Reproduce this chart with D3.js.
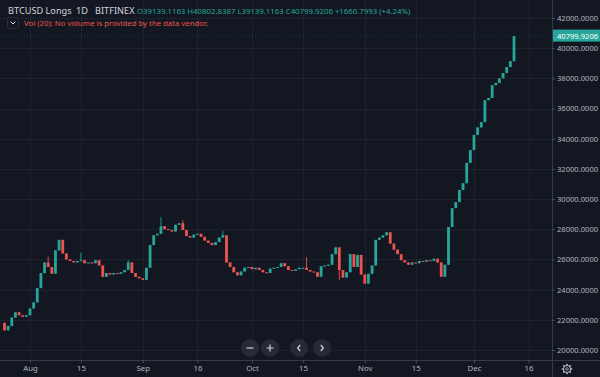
<!DOCTYPE html>
<html>
  <head>
    <meta charset="utf-8">
    <script src="https://d3js.org/d3.v7.min.js"></script>
    <style>
      body { margin: 0; background: #131722; }
      svg { display: block; font-family: "Noto Sans", sans-serif; }
    </style>
  </head>
  <body>
    <div id="chart"></div>
    <script>
    // ---- data: daily candles BTCUSD Longs, first candle on Jul 25
    var firstDay = new Date(Date.UTC(2020, 6, 25))

    var opens = [21800,21300,21600,22150,22500,22300,22200,
      22300,22750,23150,24100,25100,25800,25500,25050,26600,27300,
      26400,26000,25900,25800,25900,25950,25750,25800,25750,25950,
      25600,24850,25100,25000,25100,25050,25150,25300,25800,25100,
      24850,24750,24650,25450,26950,27600,27700,28200,28000,27950,
      27850,28300,28400,27950,27550,27450,27650,27700,27500,27250,
      27100,26950,27150,27450,27600,25800,25500,25150,24950,25200,
      25450,25500,25350,25450,25300,25150,25100,25400,25450,25500,
      25750,25550,25300,25250,25350,25450,25450,25300,25200,25150,
      24850,25550,25600,25650,26350,26800,25300,24800,25150,26350,
      25500,26300,25000,24400,25050,25600,27300,27450,27600,27800,
      27050,26650,26350,25950,25800,25650,25800,25750,25900,25850,
      25950,25900,26050,25800,24850,25650,28150,29400,29800,30600,
      31050,32400,33250,34250,34750,35100,36550,36700,37550,37700,
      38000,38350,38750,39139.1163]

    var closes = [21300,21600,22150,22500,22300,22200,22300,
      22750,23150,24100,25100,25800,25500,25050,26600,27300,26400,
      26000,25900,25800,25900,25950,25750,25800,25750,25950,25600,
      24850,25100,25000,25100,25050,25150,25300,25800,25100,24850,
      24750,24650,25450,26950,27600,27700,28200,28000,27950,27850,
      28300,28400,27950,27550,27450,27650,27700,27500,27250,27100,
      26950,27150,27450,27600,25800,25500,25150,24950,25200,25450,
      25500,25350,25450,25300,25150,25100,25400,25450,25500,25750,
      25550,25300,25250,25350,25450,25450,25300,25200,25150,24850,
      25550,25600,25650,26350,26800,25300,24800,25150,26350,25500,
      26300,25000,24400,25050,25600,27300,27450,27600,27800,27050,
      26650,26350,25950,25800,25650,25800,25750,25900,25850,25950,
      25900,26050,25800,24850,25650,28150,29400,29800,30600,31050,
      32400,33250,34250,34750,35100,36550,36700,37550,37700,38000,
      38350,38750,39139.1213,40799.9206]

    // candles with a visible wick (index into the arrays above)
    var wickIndex = [12, 21, 34, 43, 49, 60, 83, 92, 140]
    var wickHigh  = [26200, 26450, 25950, 28800, 28600, 27900, 26150, 26800, 40802.8387]
    var wickLow   = [25500, 25900, 25300, 27700, 27950, 27450, 25300, 24650, 39139.1163]

    var priceTicks = [20000,22000,24000,26000,28000,30000,32000,34000,36000,38000,40000,42000]
    var dateTicks = [[2020,7,1],[2020,7,15],[2020,8,1],[2020,8,16],[2020,9,1],[2020,9,15],[2020,10,1],[2020,10,15],[2020,11,1],[2020,11,16]]
    var dateLabels = ["Aug","15","Sep","16","Oct","15","Nov","15","Dec","16"]

    // ---- layout
    var W = 600, H = 377
    var plotRight = 552, plotBottom = 360
    var UP = "#26a69a", DOWN = "#ef5350"
    var GRID = "#1e222e", TEXT = "#b2b5be"

    var svg = d3.select("#chart").append("svg")
      .attr("width", W).attr("height", H)
    svg.append("rect").attr("width", W).attr("height", H).attr("fill", "#131722")

    var candles = closes.map(function(c, i) {
      var o = opens[i]
      var k = wickIndex.indexOf(i)
      return {
        date: d3.utcDay.offset(firstDay, i),
        o: o, c: c,
        h: k >= 0 ? wickHigh[k] : Math.max(o, c),
        l: k >= 0 ? wickLow[k] : Math.min(o, c)
      }
    })
    var last = candles[candles.length - 1]
    var prev = candles[candles.length - 2]

    var x = d3.scaleUtc()
      .domain([candles[0].date, last.date])
      .range([4.5, 514])
    var y = d3.scaleLinear()
      .domain([20000, 42000])
      .range([350, 18])
    var tickDates = dateTicks.map(function(t) { return new Date(Date.UTC(t[0], t[1], t[2])) })

    // grid
    svg.append("g").selectAll("line").data(priceTicks).enter().append("line")
      .attr("x1", 0).attr("x2", plotRight)
      .attr("y1", function(d) { return Math.round(y(d)) + 0.5 })
      .attr("y2", function(d) { return Math.round(y(d)) + 0.5 })
      .attr("stroke", GRID)
    svg.append("g").selectAll("line").data(tickDates).enter().append("line")
      .attr("y1", 0).attr("y2", plotBottom)
      .attr("x1", function(d) { return Math.round(x(d)) + 0.5 })
      .attr("x2", function(d) { return Math.round(x(d)) + 0.5 })
      .attr("stroke", GRID)

    // price line of last close
    svg.append("line")
      .attr("x1", 0).attr("x2", plotRight)
      .attr("y1", Math.round(y(last.c)) + 0.5).attr("y2", Math.round(y(last.c)) + 0.5)
      .attr("stroke", UP).attr("stroke-opacity", 0.22).attr("stroke-dasharray", "1,2")

    // candles
    var bw = 2.8
    var g = svg.append("g")
    g.selectAll(".wick").data(candles).enter().append("line")
      .attr("x1", function(d) { return x(d.date) }).attr("x2", function(d) { return x(d.date) })
      .attr("y1", function(d) { return y(d.h) }).attr("y2", function(d) { return y(d.l) })
      .attr("stroke", function(d) { return d.c >= d.o ? UP : DOWN })
      .attr("stroke-width", 0.9)
    g.selectAll(".body").data(candles).enter().append("rect")
      .attr("x", function(d) { return x(d.date) - bw / 2 })
      .attr("width", bw)
      .attr("y", function(d) { return y(Math.max(d.o, d.c)) })
      .attr("height", function(d) { return Math.max(1, Math.abs(y(d.o) - y(d.c))) })
      .attr("fill", function(d) { return d.c >= d.o ? UP : DOWN })

    // axis borders
    svg.append("line").attr("x1", plotRight + 0.5).attr("x2", plotRight + 0.5)
      .attr("y1", 0).attr("y2", H).attr("stroke", "#363a45")
    svg.append("line").attr("x1", 0).attr("x2", W)
      .attr("y1", plotBottom + 0.5).attr("y2", plotBottom + 0.5).attr("stroke", "#363a45")

    // right price axis
    var yAxis = d3.axisRight(y).tickValues(priceTicks)
      .tickFormat(function(d) { return d.toFixed(4) }).tickSize(3).tickPadding(2)
    var ya = svg.append("g").attr("transform", "translate(" + plotRight + ",0)").call(yAxis)
    ya.select(".domain").remove()
    ya.selectAll("line").attr("stroke", "#4a4e59")
    ya.selectAll("text").attr("fill", TEXT).style("font-size", "7.6px").style("font-family", "Noto Sans")

    // bottom time axis
    var xAxis = d3.axisBottom(x).tickValues(tickDates)
      .tickFormat(function(d, i) { return dateLabels[i] }).tickSize(3).tickPadding(2)
    var xa = svg.append("g").attr("transform", "translate(0," + plotBottom + ")").call(xAxis)
    xa.select(".domain").remove()
    xa.selectAll("line").attr("stroke", "#4a4e59")
    xa.selectAll("text").attr("fill", TEXT).style("font-size", "7.8px").style("font-family", "Noto Sans")

    // last price label
    var ly = y(last.c)
    svg.append("rect").attr("x", plotRight + 1).attr("y", ly - 6.5)
      .attr("width", W - plotRight - 1).attr("height", 12).attr("fill", UP)
    svg.append("text").attr("x", plotRight + 5).attr("y", ly + 2.6)
      .attr("fill", "#ffffff").style("font-size", "7.6px")
      .text(last.c.toFixed(4))

    // legend
    var head = svg.append("text").attr("x", 8).attr("y", 14)
    head.append("tspan").attr("fill", "#d1d4dc").style("font-size", "9.2px").text("BTCUSD Longs")
    head.append("tspan").attr("x", 76).attr("fill", "#d1d4dc").style("font-size", "9.2px").text("1D")
    head.append("tspan").attr("x", 95).attr("fill", "#d1d4dc").style("font-size", "9.2px").text("BITFINEX")
    var chg = last.c - prev.c
    var ohlc = "O" + last.o.toFixed(4) + " H" + last.h.toFixed(4) + " L" + last.l.toFixed(4) +
      " C" + last.c.toFixed(4) + " +" + chg.toFixed(4) + " (+" + (chg / prev.c * 100).toFixed(2) + "%)"
    head.append("tspan").attr("x", 137).attr("fill", UP).style("font-size", "7.8px").text(ohlc)

    svg.append("rect").attr("x", 7.5).attr("y", 17.5).attr("width", 11).attr("height", 11)
      .attr("rx", 2).attr("fill", "#131722").attr("stroke", "#2a2e39")
    svg.append("path").attr("d", "M10.5,21.5 L13,24 L15.5,21.5")
      .attr("fill", "none").attr("stroke", "#d1d4dc").attr("stroke-width", 1)
    svg.append("text").attr("x", 24).attr("y", 25.5)
      .attr("fill", DOWN).style("font-size", "7.6px")
      .attr("textLength", 184).attr("lengthAdjust", "spacingAndGlyphs")
      .text("Vol (20): No volume is provided by the data vendor.")

    // navigation buttons
    var btns = [[250, "minus"], [270, "plus"], [299, "left"], [322, "right"]]
    var bg = svg.append("g")
    btns.forEach(function(b) {
      var cx = b[0], cy = 348
      bg.append("circle").attr("cx", cx).attr("cy", cy).attr("r", 9).attr("fill", "#262a35")
      var p
      if (b[1] == "minus") p = "M" + (cx - 3.5) + "," + cy + "h7"
      if (b[1] == "plus") p = "M" + (cx - 3.5) + "," + cy + "h7M" + cx + "," + (cy - 3.5) + "v7"
      if (b[1] == "left") p = "M" + (cx + 1.2) + "," + (cy - 3) + "l-2.5,3l2.5,3"
      if (b[1] == "right") p = "M" + (cx - 1.2) + "," + (cy - 3) + "l2.5,3l-2.5,3"
      bg.append("path").attr("d", p).attr("fill", "none")
        .attr("stroke", "#d1d4dc").attr("stroke-width", 1.2)
    })

    // settings gear
    var gear = svg.append("g").attr("transform", "translate(567,369)")
    gear.append("circle").attr("r", 3.6).attr("fill", "none").attr("stroke", TEXT).attr("stroke-width", 1)
    gear.append("circle").attr("r", 1.3).attr("fill", "none").attr("stroke", TEXT).attr("stroke-width", 0.8)
    d3.range(8).forEach(function(i) {
      gear.append("rect").attr("x", -0.8).attr("y", -5.2).attr("width", 1.6).attr("height", 1.8)
        .attr("fill", TEXT).attr("transform", "rotate(" + (i * 45) + ")")
    })
    </script>
  </body>
</html>
